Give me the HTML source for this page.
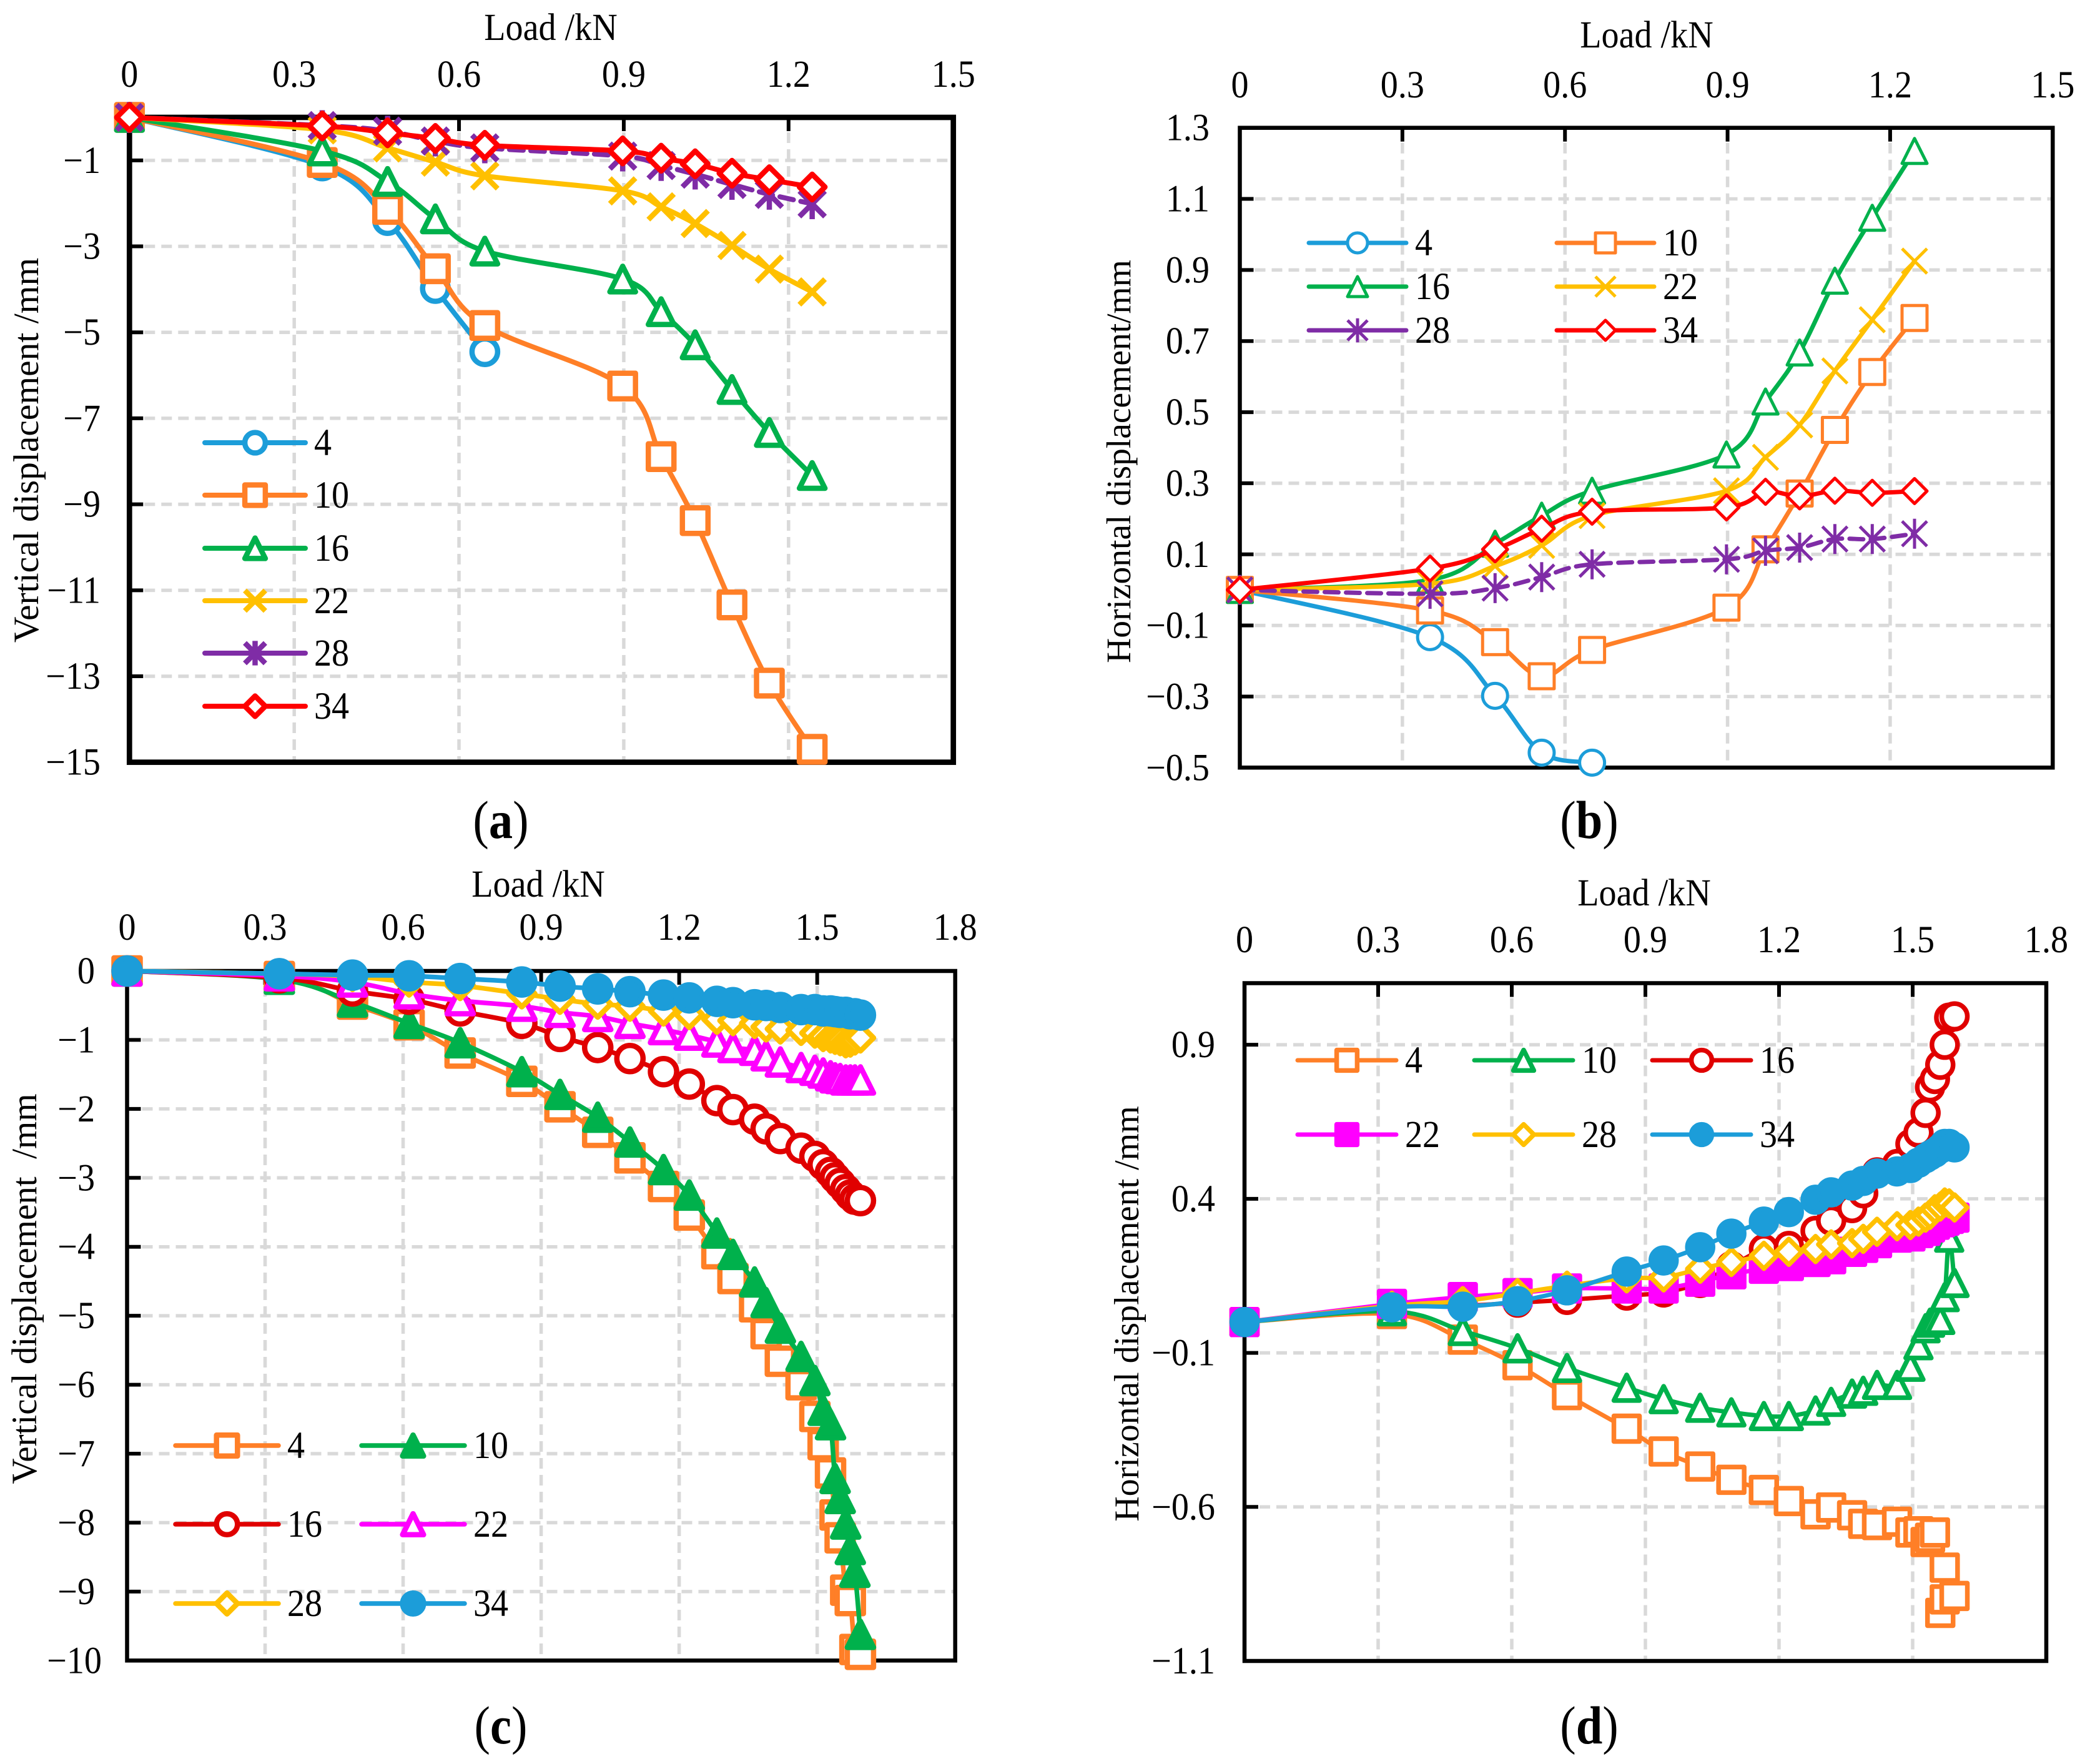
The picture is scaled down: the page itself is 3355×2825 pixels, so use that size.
<!DOCTYPE html>
<html lang="en">
<head>
<meta charset="utf-8">
<title>Load versus displacement charts</title>
<style>
html,body{margin:0;padding:0;background:#fff;}
body{width:3355px;height:2825px;overflow:hidden;}
svg{display:block;}
text{font-family:"Liberation Serif",serif;font-size:61px;fill:#000;}
.ytitle{font-size:57.5px;}
.cap{font-size:86px;}
.cap tspan.b{font-weight:bold;}
</style>
</head>
<body>
<svg id="figure" xmlns="http://www.w3.org/2000/svg" width="3355" height="2825" viewBox="0 0 3355 2825">
  <rect x="0" y="0" width="3355" height="2825" fill="#fff"/>
  <text transform="translate(882,64) scale(0.92,1)" text-anchor="middle">Load /kN</text>
  <text class="ytitle" transform="translate(61,721) rotate(-90)" text-anchor="middle">Vertical displacement /mm</text>
  <text class="cap" transform="translate(802,1342) scale(0.89,1)" text-anchor="middle">(<tspan class="b">a</tspan>)</text>
  <text transform="translate(2637,76) scale(0.92,1)" text-anchor="middle">Load /kN</text>
  <text class="ytitle" style="font-size:55.5px" transform="translate(1810,739) rotate(-90)" text-anchor="middle">Horizontal displacement/mm</text>
  <text class="cap" transform="translate(2545,1342) scale(0.89,1)" text-anchor="middle">(<tspan class="b">b</tspan>)</text>
  <text transform="translate(862,1436) scale(0.92,1)" text-anchor="middle">Load /kN</text>
  <text class="ytitle" style="font-size:57px" transform="translate(58,2064) rotate(-90)" text-anchor="middle" xml:space="preserve">Vertical displacement  /mm</text>
  <text class="cap" transform="translate(802,2792) scale(0.89,1)" text-anchor="middle">(<tspan class="b">c</tspan>)</text>
  <text transform="translate(2633,1450) scale(0.92,1)" text-anchor="middle">Load /kN</text>
  <text class="ytitle" style="font-size:56px" transform="translate(1823,2104) rotate(-90)" text-anchor="middle">Horizontal displacement /mm</text>
  <text class="cap" transform="translate(2545,2792) scale(0.89,1)" text-anchor="middle">(<tspan class="b">d</tspan>)</text>
</svg>
<script>
// ---------- Panel (a) data ----------
const aXTicks = ['0','0.3','0.6','0.9','1.2','1.5'];
const aYTicks = ['−1','−3','−5','−7','−9','−11','−13','−15'];
const aLoad = [0,0.351,0.47,0.557,0.647,0.898,0.968,1.03,1.097,1.165,1.243];
const aS4  = [0,-1.13,-2.4,-3.98,-5.45];
const aS10 = [0,-1.05,-2.14,-3.52,-4.84,-6.25,-7.89,-9.38,-11.34,-13.16,-14.7];
const aS16 = [0,-0.78,-1.49,-2.36,-3.11,-3.76,-4.52,-5.29,-6.33,-7.33,-8.33];
const aS22 = [0,-0.29,-0.71,-1.04,-1.36,-1.71,-2.08,-2.47,-2.98,-3.53,-4.06];
const aS28 = [0,-0.19,-0.32,-0.55,-0.71,-0.9,-1.12,-1.32,-1.56,-1.79,-2.01];
const aS34 = [0,-0.2,-0.36,-0.49,-0.65,-0.78,-0.95,-1.08,-1.3,-1.45,-1.62];

// ---------- Panel (b) data ----------
const bXTicks = ['0','0.3','0.6','0.9','1.2','1.5'];
const bYTicks = ['1.3','1.1','0.9','0.7','0.5','0.3','0.1','−0.1','−0.3','−0.5'];
const bLoad = [0,0.351,0.471,0.557,0.65,0.898,0.97,1.033,1.098,1.167,1.245];
const bS4  = [0,-0.133,-0.298,-0.458,-0.486];
const bS10 = [0,-0.058,-0.147,-0.243,-0.169,-0.05,0.114,0.271,0.45,0.613,0.765];
const bS16 = [0,0.028,0.13,0.209,0.279,0.381,0.53,0.668,0.87,1.047,1.235];
const bS22 = [0,0.017,0.067,0.125,0.209,0.279,0.373,0.464,0.616,0.76,0.925];
const bS28 = [0,-0.011,0.005,0.036,0.072,0.086,0.11,0.119,0.143,0.143,0.158];
const bS34 = [0,0.06,0.114,0.172,0.22,0.232,0.276,0.263,0.279,0.273,0.278];

// ---------- Panel (c) data ----------
const cXTicks = ['0','0.3','0.6','0.9','1.2','1.5','1.8'];
const cYTicks = ['0','−1','−2','−3','−4','−5','−6','−7','−8','−9','−10'];
const cLoad = [0,0.331,0.49,0.613,0.724,0.858,0.941,1.023,1.093,1.166,1.222,1.282,1.317,1.364,1.389,1.42,1.465,1.495,1.513,1.529,1.539,1.55,1.562,1.572,1.582,1.594];
const cS4  = [0,-0.08,-0.48,-0.78,-1.19,-1.6,-1.97,-2.34,-2.71,-3.125,-3.54,-4.1,-4.46,-4.87,-5.26,-5.66,-6.0,-6.46,-6.87,-7.28,-7.89,-8.22,-8.98,-9.13,-9.84,-9.91];
const cS10 = [0,-0.12,-0.45,-0.76,-1.04,-1.46,-1.79,-2.12,-2.48,-2.88,-3.25,-3.8,-4.11,-4.51,-4.81,-5.18,-5.59,-5.94,-6.37,-6.58,-7.36,-7.65,-8.02,-8.39,-8.72,-9.62];
const cS16 = [0,-0.1,-0.29,-0.41,-0.58,-0.76,-0.95,-1.11,-1.27,-1.46,-1.64,-1.88,-2.01,-2.15,-2.29,-2.43,-2.57,-2.69,-2.81,-2.92,-3.0,-3.08,-3.17,-3.25,-3.31,-3.33];
const cS22 = [0,-0.07,-0.16,-0.33,-0.43,-0.51,-0.6,-0.66,-0.76,-0.85,-0.93,-1.03,-1.11,-1.15,-1.23,-1.32,-1.4,-1.44,-1.48,-1.52,-1.55,-1.56,-1.58,-1.58,-1.58,-1.58];
const cS28 = [0,-0.04,-0.08,-0.16,-0.21,-0.33,-0.41,-0.48,-0.51,-0.58,-0.63,-0.7,-0.72,-0.76,-0.81,-0.84,-0.86,-0.9,-0.95,-0.97,-0.99,-1.01,-1.04,-1.03,-1.0,-0.97];
const cS34 = [0,-0.04,-0.06,-0.07,-0.11,-0.16,-0.22,-0.26,-0.3,-0.35,-0.39,-0.44,-0.46,-0.49,-0.5,-0.53,-0.56,-0.56,-0.58,-0.58,-0.59,-0.6,-0.6,-0.62,-0.62,-0.64];

// ---------- Panel (d) data ----------
const dXTicks = ['0','0.3','0.6','0.9','1.2','1.5','1.8'];
const dYTicks = ['0.9','0.4','−0.1','−0.6','−1.1'];
const dLoad = [0,0.331,0.49,0.613,0.724,0.858,0.941,1.023,1.093,1.166,1.222,1.282,1.317,1.364,1.389,1.42,1.465,1.495,1.513,1.529,1.539,1.55,1.562,1.572,1.582,1.594];
const dLoad4 = [0,0.331,0.49,0.613,0.724,0.858,0.941,1.023,1.093,1.166,1.222,1.282,1.317,1.364,1.389,1.42,1.465,1.495,1.513,1.529,1.539,1.55,1.572,1.562,1.572,1.594];
const dS4  = [0,0.026,-0.057,-0.14,-0.237,-0.346,-0.42,-0.469,-0.512,-0.545,-0.581,-0.624,-0.602,-0.627,-0.655,-0.659,-0.648,-0.683,-0.679,-0.714,-0.7,-0.683,-0.797,-0.944,-0.9,-0.889];
const dS10 = [0,0.035,-0.029,-0.085,-0.149,-0.213,-0.25,-0.278,-0.293,-0.305,-0.305,-0.287,-0.259,-0.232,-0.223,-0.204,-0.204,-0.145,-0.075,-0.02,-0.002,0.007,0.007,0.081,0.274,0.127];
const dS16 = [0,0.053,0.053,0.063,0.072,0.086,0.096,0.127,0.182,0.237,0.247,0.296,0.329,0.37,0.418,0.486,0.513,0.578,0.615,0.679,0.762,0.789,0.835,0.9,0.988,0.992];
const dS22 = [0,0.059,0.081,0.094,0.109,0.109,0.109,0.131,0.155,0.173,0.182,0.195,0.204,0.228,0.241,0.256,0.274,0.278,0.289,0.296,0.307,0.316,0.324,0.329,0.335,0.339];
const dS28 = [0,0.053,0.068,0.094,0.118,0.142,0.145,0.173,0.195,0.215,0.228,0.237,0.252,0.256,0.27,0.293,0.311,0.315,0.326,0.339,0.348,0.366,0.375,0.388,0.385,0.372];
const dS34 = [0,0.048,0.05,0.068,0.103,0.164,0.2,0.243,0.287,0.326,0.357,0.397,0.421,0.443,0.458,0.482,0.489,0.5,0.517,0.532,0.541,0.55,0.563,0.578,0.578,0.567];

const NS = 'http://www.w3.org/2000/svg';
const root = document.getElementById('figure');
const BLUE = '#1c9dd9', ORANGE = '#ff7f27', GREEN = '#00b14c', YELLOW = '#ffc000',
      PURPLE = '#7f2ca6', RED = '#ff0000', DARKRED = '#e00000', MAGENTA = '#ff00ff';

function mk(parent, tag, attrs) {
  const el = document.createElementNS(NS, tag);
  for (const k in attrs) el.setAttribute(k, attrs[k]);
  parent.appendChild(el);
  return el;
}
function num(label) { return parseFloat(label.replace('−', '-')); }

function label(parent, x, y, anchor, str) {
  const t = mk(parent, 'text', { transform: 'translate(' + x + ',' + y + ') scale(0.92,1)', 'text-anchor': anchor });
  t.textContent = str;
  return t;
}

function smoothPath(pts) {
  let d = 'M' + pts[0][0].toFixed(1) + ' ' + pts[0][1].toFixed(1);
  for (let i = 0; i < pts.length - 1; i++) {
    const p0 = pts[Math.max(i - 1, 0)], p1 = pts[i], p2 = pts[i + 1], p3 = pts[Math.min(i + 2, pts.length - 1)];
    const c1x = p1[0] + (p2[0] - p0[0]) / 6, c1y = p1[1] + (p2[1] - p0[1]) / 6;
    const c2x = p2[0] - (p3[0] - p1[0]) / 6, c2y = p2[1] - (p3[1] - p1[1]) / 6;
    d += 'C' + [c1x, c1y, c2x, c2y, p2[0], p2[1]].map(v => v.toFixed(1)).join(' ');
  }
  return d;
}

function marker(parent, kind, cx, cy, s, color, sw, filled) {
  const h = s / 2;
  const fill = filled ? color : '#fff';
  const common = { stroke: color, 'stroke-width': sw, 'stroke-linejoin': 'round', fill: fill };
  let el;
  if (kind === 'circle') {
    el = mk(parent, 'circle', Object.assign({ cx: cx, cy: cy, r: h }, common));
  } else if (kind === 'square') {
    el = mk(parent, 'rect', Object.assign({ x: cx - h, y: cy - h, width: s, height: s }, common));
  } else if (kind === 'triangle') {
    el = mk(parent, 'path', Object.assign({ d: 'M' + cx + ' ' + (cy - h) + 'L' + (cx + h) + ' ' + (cy + h) + 'L' + (cx - h) + ' ' + (cy + h) + 'Z' }, common));
  } else if (kind === 'diamond') {
    el = mk(parent, 'path', Object.assign({ d: 'M' + cx + ' ' + (cy - h) + 'L' + (cx + h) + ' ' + cy + 'L' + cx + ' ' + (cy + h) + 'L' + (cx - h) + ' ' + cy + 'Z' }, common));
  } else if (kind === 'x') {
    el = mk(parent, 'path', { d: 'M' + (cx - h) + ' ' + (cy - h) + 'L' + (cx + h) + ' ' + (cy + h) + 'M' + (cx + h) + ' ' + (cy - h) + 'L' + (cx - h) + ' ' + (cy + h), stroke: color, 'stroke-width': sw, fill: 'none' });
  } else {
    el = mk(parent, 'path', { d: 'M' + (cx - h) + ' ' + (cy - h) + 'L' + (cx + h) + ' ' + (cy + h) + 'M' + (cx + h) + ' ' + (cy - h) + 'L' + (cx - h) + ' ' + (cy + h) + 'M' + cx + ' ' + (cy - h * 1.2) + 'L' + cx + ' ' + (cy + h * 1.2), stroke: color, 'stroke-width': sw, fill: 'none' });
  }
  return el;
}

function drawPanel(p) {
  const g = mk(root, 'g', {});
  
  
  const x = v => p.L + (v - p.xMin) / (p.xMax - p.xMin) * (p.R - p.L);
  const y = v => p.T + (p.yMax - v) / (p.yMax - p.yMin) * (p.B - p.T);

  // gridlines
  p.xTicks.forEach(lbl => {
    const v = num(lbl);
    if (v > p.xMin && v < p.xMax) {
      const l = mk(g, 'line', { x1: x(v), x2: x(v), y1: p.T + 24, y2: p.B, stroke: '#d9d9d9', 'stroke-width': 5.5, 'stroke-dasharray': '17 10' });
      
      
    }
  });
  p.yTicks.forEach(lbl => {
    const v = num(lbl);
    if (v > p.yMin && v < p.yMax) {
      const l = mk(g, 'line', { x1: p.L + 24, x2: p.R, y1: y(v), y2: y(v), stroke: '#d9d9d9', 'stroke-width': 5.5, 'stroke-dasharray': '17 10' });
      
      
    }
  });

  // tick marks and labels
  p.xTicks.forEach(lbl => {
    const v = num(lbl);
    if (v > p.xMin && v < p.xMax) {
      const t = mk(g, 'line', { x1: x(v), x2: x(v), y1: p.T, y2: p.T + 22, stroke: '#000', 'stroke-width': 6 });
      
      
    }
    const tx = label(g, x(v), p.xLabelY, 'middle', lbl);
    
    
  });
  p.yTicks.forEach(lbl => {
    const v = num(lbl);
    if (v > p.yMin && v < p.yMax) {
      const t = mk(g, 'line', { x1: p.L, x2: p.L + 22, y1: y(v), y2: y(v), stroke: '#000', 'stroke-width': 6 });
      
      
    }
    const extra = lbl.length >= 3 && lbl.indexOf('.') < 0 ? p.longExtra : 0;
    const tx = label(g, p.yLabelRight + extra, y(v) + 20, 'end', lbl);
    
    
  });

  // plot frame
  const frame = mk(g, 'rect', { x: p.L, y: p.T, width: p.R - p.L, height: p.B - p.T, fill: 'none', stroke: '#000', 'stroke-width': p.frameW });
  
  

  // series
  p.series.forEach(s => {
    const sg = mk(g, 'g', {});
    
    
    const loads = s.loads || p.load;
    const pts = s.vals.map((v, i) => [x(loads[i]), y(v)]);
    const line = mk(sg, 'path', { d: smoothPath(pts), fill: 'none', stroke: s.color, 'stroke-width': p.lineW, 'stroke-linejoin': 'round', 'stroke-linecap': 'round', 'stroke-dasharray': s.dash || 'none' });
    
    
    pts.forEach(pt => {
      const m = marker(sg, s.kind, pt[0], pt[1], s.size || p.size, s.color, p.markW, s.filled);
      
      
    });
  });

  // legend
  const lg = mk(g, 'g', {});
  
  
  p.series.forEach((s, i) => {
    const col = p.legend.cols[i % p.legend.cols.length];
    const rowY = p.legend.rows[Math.floor(i / p.legend.cols.length)];
    const e = mk(lg, 'g', {});
    
    
    mk(e, 'line', { x1: col, x2: col + p.legend.len, y1: rowY, y2: rowY, stroke: s.color, 'stroke-width': p.lineW, 'stroke-linecap': 'round', 'stroke-dasharray': s.legendDash || 'none' });
    marker(e, s.kind, col + p.legend.len / 2, rowY, (s.size || p.size) * 0.8, s.color, p.markW, s.filled);
    label(e, col + p.legend.len + 14, rowY + 20, 'start', s.name);
  });
}

drawPanel({
  id: 'a', L: 207.3, R: 1526.7, T: 188, B: 1220.7, frameW: 8.7, xMin: 0, xMax: 1.5, yMin: -15, yMax: 0,
  xTicks: aXTicks, yTicks: aYTicks, load: aLoad, xLabelY: 139, yLabelRight: 161, longExtra: 0,
  lineW: 8, markW: 8.5, size: 41,
  legend: { cols: [328], rows: [709, 793, 878, 962, 1046, 1131], len: 161 },
  series: [
    { name: '4', vals: aS4, color: BLUE, kind: 'circle' },
    { name: '10', vals: aS10, color: ORANGE, kind: 'square' },
    { name: '16', vals: aS16, color: GREEN, kind: 'triangle' },
    { name: '22', vals: aS22, color: YELLOW, kind: 'x' },
    { name: '28', vals: aS28, color: PURPLE, kind: 'star', dash: '22 12' },
    { name: '34', vals: aS34, color: RED, kind: 'diamond' }
  ]
});
drawPanel({
  id: 'b', L: 1985.5, R: 3287.3, T: 204.7, B: 1229.3, frameW: 6.5, xMin: 0, xMax: 1.5, yMin: -0.5, yMax: 1.3,
  xTicks: bXTicks, yTicks: bYTicks, load: bLoad, xLabelY: 156, yLabelRight: 1937, longExtra: 0,
  lineW: 7, markW: 5, size: 40,
  legend: { cols: [2096, 2493], rows: [389, 459, 529], len: 156 },
  series: [
    { name: '4', vals: bS4, color: BLUE, kind: 'circle' },
    { name: '10', vals: bS10, color: ORANGE, kind: 'square' },
    { name: '16', vals: bS16, color: GREEN, kind: 'triangle' },
    { name: '22', vals: bS22, color: YELLOW, kind: 'x' },
    { name: '28', vals: bS28, color: PURPLE, kind: 'star', dash: '22 12' },
    { name: '34', vals: bS34, color: RED, kind: 'diamond' }
  ]
});
drawPanel({
  id: 'c', L: 203.5, R: 1529.7, T: 1555, B: 2659.3, frameW: 6.5, xMin: 0, xMax: 1.8, yMin: -10, yMax: 0,
  xTicks: cXTicks, yTicks: cYTicks, load: cLoad, xLabelY: 1505, yLabelRight: 152, longExtra: 11,
  lineW: 7.5, markW: 8.5, size: 42,
  legend: { cols: [281, 579], rows: [2315, 2441, 2568], len: 165 },
  series: [
    { name: '4', vals: cS4, color: ORANGE, kind: 'square' },
    { name: '10', vals: cS10, color: GREEN, kind: 'triangle', filled: true },
    { name: '16', vals: cS16, color: DARKRED, kind: 'circle' },
    { name: '22', vals: cS22, color: MAGENTA, kind: 'triangle' },
    { name: '28', vals: cS28, color: YELLOW, kind: 'diamond' },
    { name: '34', vals: cS34, color: BLUE, kind: 'circle', filled: true }
  ]
});
drawPanel({
  id: 'd', L: 1993, R: 3277, T: 1574.5, B: 2660, frameW: 6.5, xMin: 0, xMax: 1.8, yMin: -1.1, yMax: 1.1,
  xTicks: dXTicks, yTicks: dYTicks, load: dLoad, xLabelY: 1525, yLabelRight: 1946, longExtra: 0,
  lineW: 7, markW: 7.5, size: 41,
  legend: { cols: [2078, 2361, 2646], rows: [1698, 1817], len: 158 },
  series: [
    { name: '4', vals: dS4, color: ORANGE, kind: 'square', loads: dLoad4 },
    { name: '10', vals: dS10, color: GREEN, kind: 'triangle' },
    { name: '16', vals: dS16, color: DARKRED, kind: 'circle' },
    { name: '22', vals: dS22, color: MAGENTA, kind: 'square', filled: true },
    { name: '28', vals: dS28, color: YELLOW, kind: 'diamond' },
    { name: '34', vals: dS34, color: BLUE, kind: 'circle', filled: true }
  ]
});
</script>
</body>
</html>
